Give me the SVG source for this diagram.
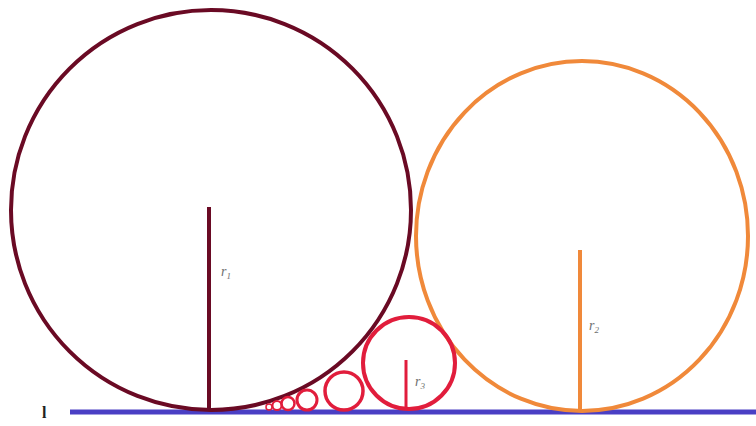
<svg xmlns="http://www.w3.org/2000/svg" width="756" height="426" viewBox="0 0 756 426">
<style>
.c{fill:none;stroke:#e11d3c}
.lbl{font-family:"Liberation Serif",serif;font-style:italic;font-size:14px;fill:#6e6e6e}
.sub{font-size:9px}
</style>
<rect width="756" height="426" fill="#fff"/>
<g id="baseline">
<line x1="70" y1="412" x2="756" y2="412" stroke="#4a3fc4" stroke-width="5"/>
<text x="42" y="418" font-family="Liberation Serif,serif" font-size="16" font-weight="bold" fill="#222">l</text>
</g>
<g id="circle1">
<circle cx="211" cy="210" r="200" fill="none" stroke="#6a0a24" stroke-width="4"/>
<line x1="209" y1="207" x2="209" y2="410" stroke="#6a0a24" stroke-width="4"/>
<text class="lbl" x="221" y="276">r<tspan class="sub" dy="3">1</tspan></text>
</g>
<g id="circle2">
<ellipse cx="582" cy="236" rx="166" ry="175" fill="none" stroke="#f0893a" stroke-width="4"/>
<line x1="580" y1="250" x2="580" y2="410" stroke="#f0893a" stroke-width="4"/>
<text class="lbl" x="589" y="330">r<tspan class="sub" dy="3">2</tspan></text>
</g>
<g id="circle3">
<circle class="c" cx="409" cy="363" r="46" stroke-width="4"/>
<line x1="406" y1="360" x2="406" y2="410" stroke="#e11d3c" stroke-width="3"/>
<text class="lbl" x="415" y="386">r<tspan class="sub" dy="3">3</tspan></text>
</g>
<g id="circle4"><circle class="c" cx="344" cy="391" r="19" stroke-width="3.5"/></g>
<g id="circle5"><circle class="c" cx="307" cy="400" r="10" stroke-width="3"/></g>
<g id="circle6"><circle class="c" cx="288" cy="403.5" r="6.5" stroke-width="2.5"/></g>
<g id="circle7"><circle class="c" cx="277" cy="405.5" r="4.5" stroke-width="2"/></g>
<g id="circle8"><circle class="c" cx="269" cy="407" r="3" stroke-width="1.5"/></g>
</svg>
